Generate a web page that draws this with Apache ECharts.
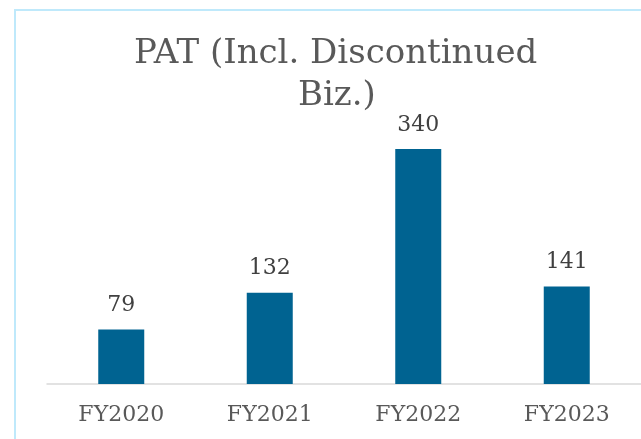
<!DOCTYPE html>
<html>
<head>
<meta charset="utf-8">
<script src="https://cdn.jsdelivr.net/npm/echarts@6/dist/echarts.min.js"></script>
<style>
  html, body { margin: 0; padding: 0; background: #fff; }
  #chart { width: 641px; height: 439px; }
</style>
</head>
<body>
<div id="chart"></div>
<script>
// chart data
const years = ['FY2020', 'FY2021', 'FY2022', 'FY2023'];
const patValues = [79, 132, 340, 141];
const titleLines = ['PAT (Incl. Discontinued', 'Biz.)'];

const serif = '"DejaVu Serif", "Liberation Serif", serif';
const chart = echarts.init(document.getElementById('chart'));

chart.setOption({
  animation: false,
  graphic: [
    {
      type: 'rect',
      silent: true,
      shape: { x: 15, y: 10, width: 700, height: 500 },
      style: { fill: 'none', stroke: '#bfe9fb', lineWidth: 2 }
    },
    {
      type: 'text',
      left: 134, top: 37,
      style: { text: titleLines[0], font: '34px ' + serif, fill: '#595959' }
    },
    {
      type: 'text',
      left: 298, top: 79,
      style: { text: titleLines[1], font: '34px ' + serif, fill: '#595959' }
    }
  ],
  grid: { left: 47, right: -2, top: 107.5, bottom: 55 },
  xAxis: {
    type: 'category',
    data: years,
    axisTick: { show: false },
    axisLine: { lineStyle: { color: '#d9d9d9', width: 1.5 } },
    axisLabel: { color: '#595959', fontFamily: serif, fontSize: 22, margin: 20 }
  },
  yAxis: {
    type: 'value',
    min: 0, max: 400,
    show: false,
    splitLine: { show: false }
  },
  series: [{
    type: 'bar',
    data: patValues,
    barWidth: 46,
    itemStyle: { color: '#006391' },
    label: {
      show: true,
      position: 'top',
      distance: 13,
      color: '#404040',
      fontFamily: serif,
      fontSize: 22
    }
  }]
});
</script>
</body>
</html>
